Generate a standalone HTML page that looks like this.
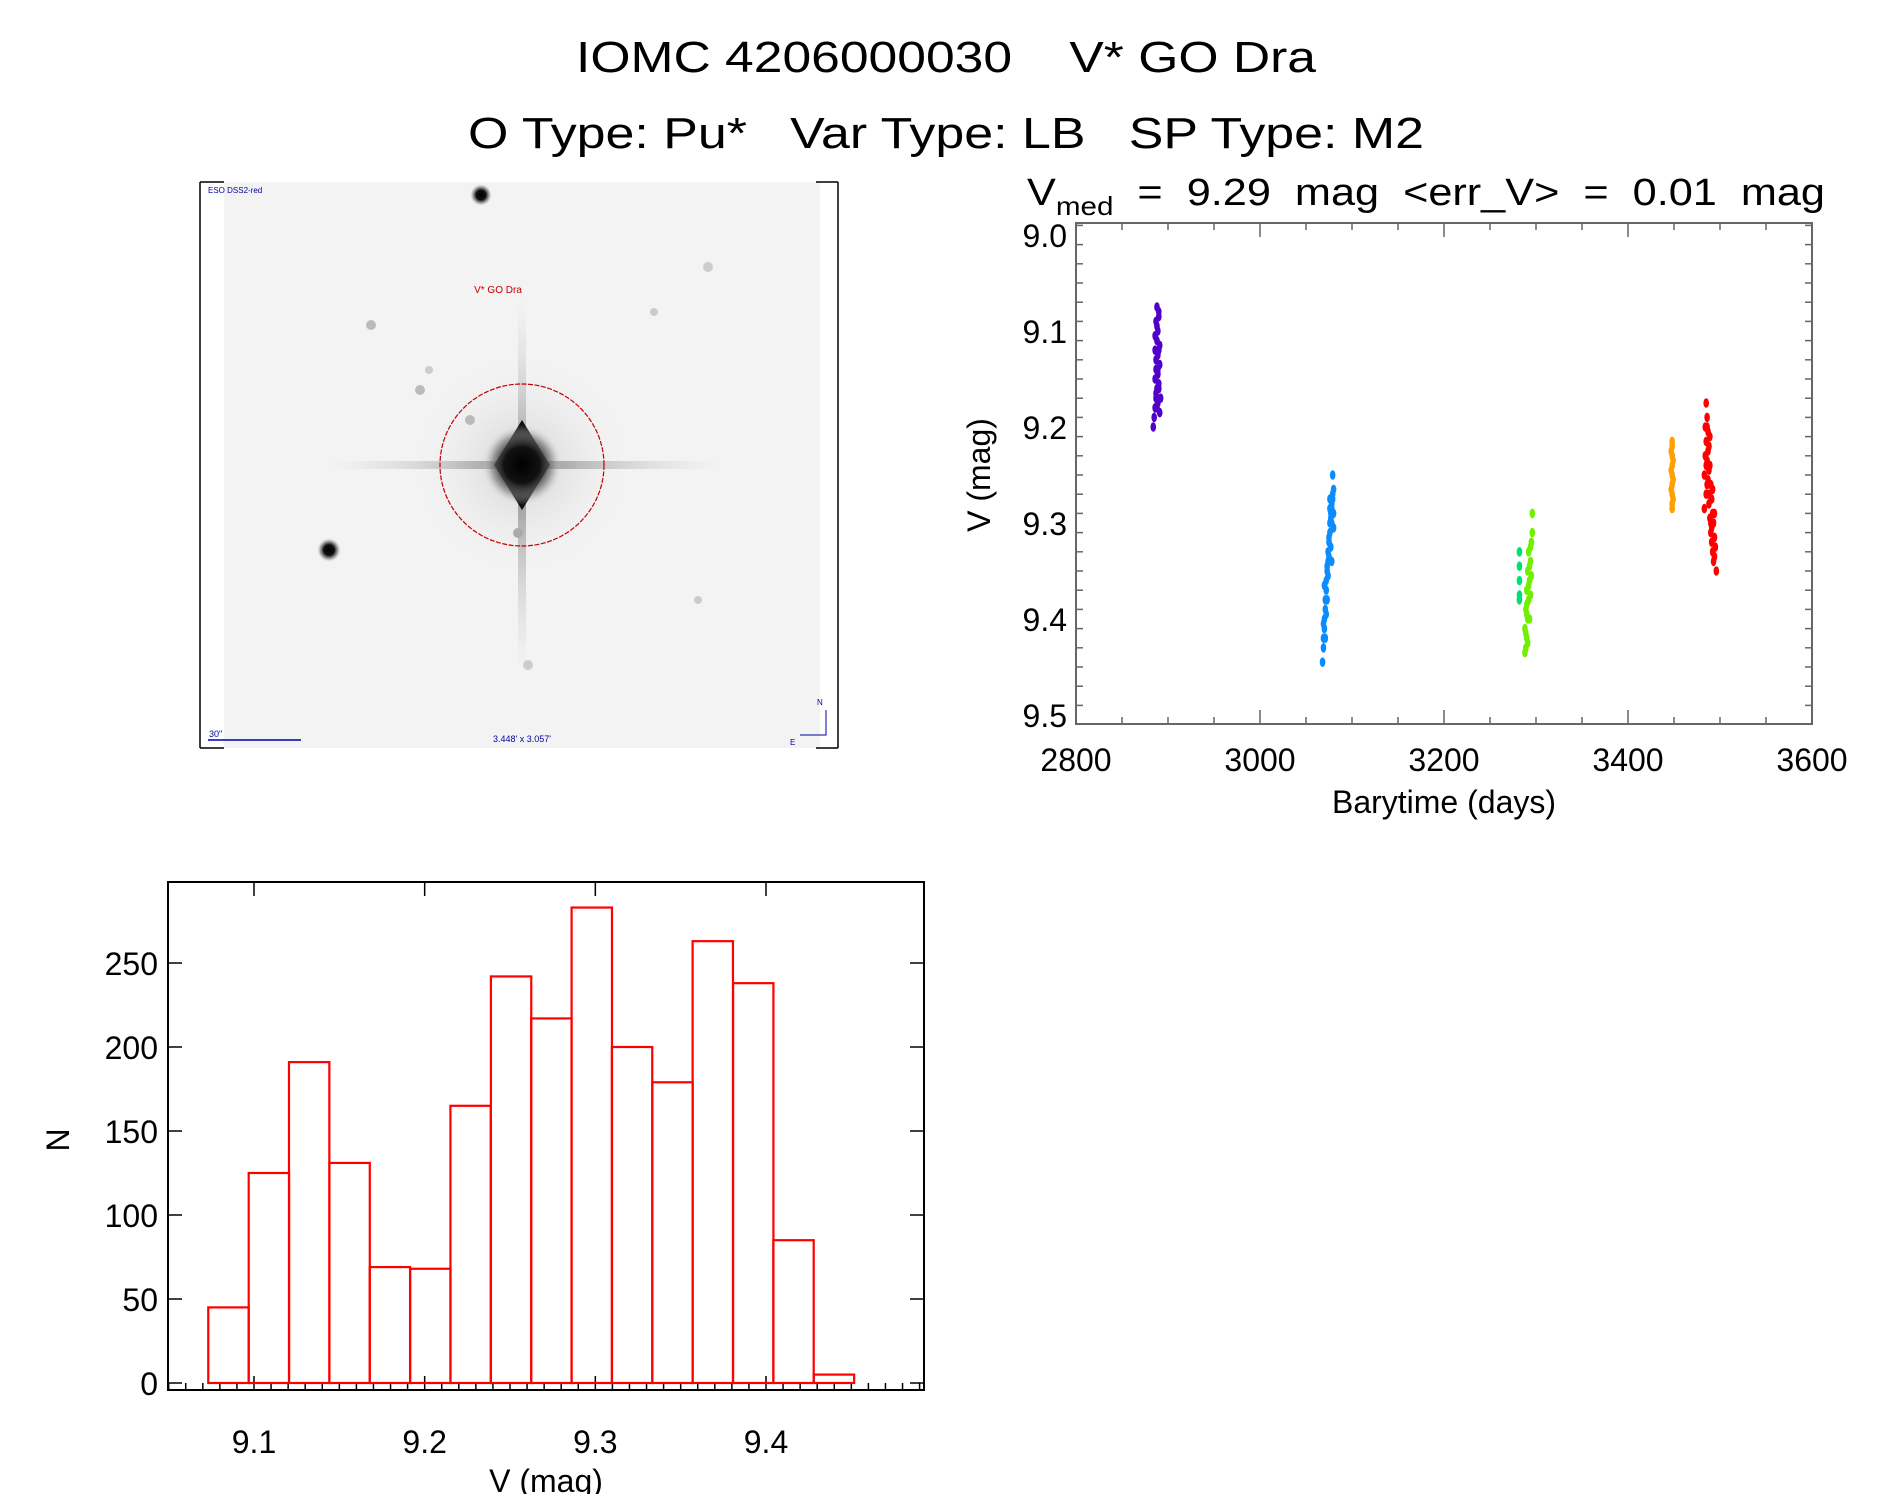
<!DOCTYPE html>
<html><head><meta charset="utf-8"><style>
html,body{margin:0;padding:0;background:#fff}
svg{display:block;font-family:"Liberation Sans",sans-serif}
</style></head><body>
<svg id="root" width="1889" height="1494" viewBox="0 0 1889 1494">
<defs>
<radialGradient id="starg"><stop offset="0" stop-color="#000"/><stop offset="0.45" stop-color="#111"/><stop offset="0.75" stop-color="#777" stop-opacity="0.6"/><stop offset="1" stop-color="#ddd" stop-opacity="0"/></radialGradient>
<radialGradient id="halo"><stop offset="0" stop-color="#bbb" stop-opacity="0.6"/><stop offset="1" stop-color="#eee" stop-opacity="0"/></radialGradient>
<linearGradient id="hsp" x1="0" x2="1"><stop offset="0" stop-color="#aaa" stop-opacity="0"/><stop offset="0.5" stop-color="#444"/><stop offset="1" stop-color="#aaa" stop-opacity="0"/></linearGradient>
<linearGradient id="vsp" x1="0" x2="0" y1="0" y2="1"><stop offset="0" stop-color="#aaa" stop-opacity="0"/><stop offset="0.5" stop-color="#444"/><stop offset="1" stop-color="#aaa" stop-opacity="0"/></linearGradient>
</defs>
<text x="946" y="72" font-size="44" text-anchor="middle" textLength="740" lengthAdjust="spacingAndGlyphs" xml:space="preserve" style="white-space:pre">IOMC 4206000030    V* GO Dra</text>
<text x="946" y="148" font-size="44" text-anchor="middle" textLength="956" lengthAdjust="spacingAndGlyphs" xml:space="preserve" style="white-space:pre">O Type: Pu*   Var Type: LB   SP Type: M2</text>

<g>
<rect x="224" y="182" width="596" height="566" fill="#f3f3f3"/>
<circle cx="522" cy="465" r="110" fill="url(#halo)"/>
<rect x="330" y="461" width="390" height="8" fill="url(#hsp)" opacity="0.5"/>
<rect x="518" y="300" width="8" height="370" fill="url(#vsp)" opacity="0.5"/>
<polygon points="522,420 550,465 522,510 494,465" fill="#111"/>
<circle cx="522" cy="465" r="40" fill="url(#starg)"/>
<circle cx="481" cy="195" r="11" fill="url(#starg)"/>
<circle cx="329" cy="550" r="12" fill="url(#starg)"/>
<circle cx="371" cy="325" r="5" fill="#bbb"/><circle cx="420" cy="390" r="5" fill="#bbb"/><circle cx="429" cy="370" r="4" fill="#ccc"/>
<circle cx="470" cy="420" r="5" fill="#bbb"/><circle cx="518" cy="533" r="5" fill="#aaa"/><circle cx="528" cy="665" r="5" fill="#ccc"/>
<circle cx="708" cy="267" r="5" fill="#ccc"/><circle cx="654" cy="312" r="4" fill="#ccc"/><circle cx="698" cy="600" r="4" fill="#ccc"/>
<text x="208" y="193" font-size="8" fill="#0000a0">ESO DSS2-red</text>
<text x="498" y="293" font-size="10" fill="#c00000" text-anchor="middle">V* GO Dra</text>
<ellipse cx="522" cy="465" rx="82" ry="81" fill="none" stroke="#c00000" stroke-width="1.2" stroke-dasharray="5,1.5"/>
<line x1="208" y1="740" x2="301" y2="740" stroke="#0000a0" stroke-width="1.5"/>
<text x="209" y="737" font-size="9" fill="#0000a0">30"</text>
<text x="522" y="742" font-size="9" fill="#0000a0" text-anchor="middle">3.448' x 3.057'</text>
<path d="M826,710 L826,735 L800,735" fill="none" stroke="#0000a0" stroke-width="1"/>
<text x="817" y="705" font-size="8" fill="#0000a0">N</text><text x="790" y="745" font-size="8" fill="#0000a0">E</text>
<path d="M200,182 V748 M200,182 H224 M200,748 H224 M838,182 V748 M816,182 H838 M816,748 H838" stroke="#000" stroke-width="1.5" fill="none"/>
</g>

<g id="lc"></g>
<g id="hist"></g>
</svg>
<script>
var NS='http://www.w3.org/2000/svg';
function mk(parent,tag,attrs){var e=document.createElementNS(NS,tag);for(var k in attrs)e.setAttribute(k,attrs[k]);parent.appendChild(e);return e;}

// ---- light curve data ----
var lcXTicks=[2800,3000,3200,3400,3600];
var lcYTicks=[9.0,9.1,9.2,9.3,9.4,9.5];
var purpleT=[2884,2885,2886,2887,2888,2886,2889,2887,2890,2888,2889,2887,2890,2888,2891,2892,2890,2891,2889,2886,2888,2890,2887,2889,2891,2888,2886,2890,2889,2887];
var purpleV=[9.20,9.19,9.18,9.17,9.16,9.15,9.14,9.13,9.12,9.11,9.10,9.09,9.08,9.075,9.185,9.17,9.155,9.135,9.125,9.105,9.095,9.085,9.165,9.145,9.115,9.18,9.12,9.16,9.175,9.14];
var blueT=[3068,3069,3069,3070,3070,3071,3071,3072,3072,3073,3073,3074,3074,3075,3075,3076,3076,3077,3077,3078,3078,3079,3079,3080,3079,3077,3080,3078,3072,3070,3074,3076,3080,3071,3073,3075,3078,3069,3076];
var blueV=[9.445,9.43,9.42,9.41,9.40,9.39,9.38,9.37,9.36,9.35,9.345,9.34,9.33,9.32,9.315,9.31,9.30,9.295,9.29,9.285,9.28,9.275,9.27,9.265,9.25,9.325,9.305,9.34,9.395,9.365,9.355,9.285,9.29,9.42,9.38,9.335,9.3,9.405,9.275];
var greenT=[3288,3289,3290,3288,3291,3289,3292,3290,3293,3291,3294,3292,3295,3296,3296,3293,3290,3294,3289,3295,3291,3293,3292,3290,3294];
var greenV=[9.435,9.43,9.42,9.41,9.40,9.39,9.38,9.37,9.36,9.35,9.34,9.33,9.32,9.31,9.29,9.40,9.395,9.375,9.415,9.355,9.425,9.345,9.365,9.385,9.325];
var tealT=[3282,3282,3282,3282,3282];
var tealV=[9.33,9.345,9.36,9.375,9.38];
var orangeT=[3448,3448,3447,3448,3449,3448,3447,3448,3449,3448,3447,3448,3449,3448,3448];
var orangeV=[9.215,9.22,9.225,9.23,9.235,9.24,9.245,9.25,9.255,9.26,9.265,9.27,9.275,9.28,9.285];
var redT=[3485,3486,3484,3487,3485,3488,3484,3486,3489,3483,3487,3490,3485,3491,3488,3492,3483,3489,3493,3490,3494,3491,3495,3492,3494,3496,3488,3486,3492,3490,3493,3487,3489,3485,3491,3494,3488,3486];
var redV=[9.175,9.19,9.20,9.205,9.215,9.22,9.23,9.235,9.24,9.25,9.255,9.26,9.27,9.275,9.28,9.29,9.285,9.295,9.30,9.31,9.315,9.32,9.325,9.33,9.335,9.35,9.245,9.26,9.265,9.30,9.34,9.225,9.21,9.24,9.305,9.29,9.27,9.2];

// ---- histogram data ----
var binStart=[9.0732,9.0969,9.1205,9.1442,9.1678,9.1915,9.2151,9.2388,9.2624,9.2861,9.3097,9.3334,9.3570,9.3807,9.4043,9.4280];
var binWidth=0.02365;
var counts=[45,125,191,131,69,68,165,242,217,283,200,179,263,238,85,5];
var histXTicks=[9.1,9.2,9.3,9.4];
var histYTicks=[0,50,100,150,200,250];

var L={x0:1076,x1:1812,y0:223,y1:724};
function lx(t){return L.x0+(t-2800)/800*(L.x1-L.x0);}
function ly(v){return 235+(v-9.0)/0.5*(715-235);}
var lc=document.getElementById('lc');
var fr=mk(lc,'rect',{x:L.x0,y:L.y0,width:L.x1-L.x0,height:L.y1-L.y0,fill:'none',stroke:'#666','stroke-width':2});


for(var t=2800;t<=3600;t+=50){var maj=(t%200===0);var h=maj?14:7;
 mk(lc,'line',{x1:lx(t),x2:lx(t),y1:L.y1,y2:L.y1-h,stroke:'#666','stroke-width':1.5});
 mk(lc,'line',{x1:lx(t),x2:lx(t),y1:L.y0,y2:L.y0+h,stroke:'#666','stroke-width':1.5});}
for(var i=0;i<=26;i++){var v=8.99+i*0.02; var mj=Math.abs(Math.round(v*10)-v*10)<0.001;var hh=mj?14:7;
 var yy=ly(v); if(yy<L.y0||yy>L.y1)continue;
 mk(lc,'line',{x1:L.x0,x2:L.x0+hh,y1:yy,y2:yy,stroke:'#666','stroke-width':1.5});
 mk(lc,'line',{x1:L.x1,x2:L.x1-hh,y1:yy,y2:yy,stroke:'#666','stroke-width':1.5});}
lcXTicks.forEach(function(t){var e=mk(lc,'text',{x:lx(t),y:771,'font-size':32,'text-anchor':'middle'});e.textContent=t;
 
 });
lcYTicks.forEach(function(v){var e=mk(lc,'text',{x:1067,y:ly(v)+12,'font-size':32,'text-anchor':'end'});e.textContent=v.toFixed(1);
 
 });
var xt=mk(lc,'text',{x:1444,y:813,'font-size':32,'text-anchor':'middle'});xt.textContent='Barytime (days)';


var yt=mk(lc,'text',{x:0,y:0,'font-size':32,'text-anchor':'middle',transform:'translate(990,475) rotate(-90)'});yt.textContent='V (mag)';


var tt=mk(lc,'text',{x:1027,y:205,'font-size':38,textLength:798,lengthAdjust:'spacingAndGlyphs'});


var s1=mk(tt,'tspan',{});s1.textContent='V';
var s2=mk(tt,'tspan',{'font-size':26,dy:10});s2.textContent='med';
var s3=mk(tt,'tspan',{dy:-10});s3.textContent='  =  9.29  mag  <err_V>  =  0.01  mag';
tt.setAttribute('xml:space','preserve');tt.style.whiteSpace='pre';
function series(T,V,col,name){var g=mk(lc,'g',{});
 
 
 for(var i=0;i<T.length;i++){mk(g,'ellipse',{cx:lx(T[i]),cy:ly(V[i]),rx:2.8,ry:4.8,fill:col});}}
series(purpleT,purpleV,'#5000c8','series-purple');
series(blueT,blueV,'#0a8cff','series-blue');
series(tealT,tealV,'#00e070','series-teal');
series(greenT,greenV,'#70f000','series-green');
series(orangeT,orangeV,'#ffa000','series-orange');
series(redT,redV,'#ff0000','series-red');

var H={x0:168,x1:924,y0:882,y1:1390};
function hx(v){return 254+(v-9.1)/0.3*(766-254);}
function hy(n){return 1383-n/250*(1383-963);}
var hg=document.getElementById('hist');
var hf=mk(hg,'rect',{x:H.x0,y:H.y0,width:H.x1-H.x0,height:H.y1-H.y0,fill:'none',stroke:'#000','stroke-width':2});


for(var k=0;k<=45;k++){var v2=9.05+k*0.01;var x=hx(v2);if(x<H.x0-1||x>H.x1+1)continue;
 var mj2=Math.abs(Math.round(v2*10)-v2*10)<0.001;
 mk(hg,'line',{x1:x,x2:x,y1:H.y1,y2:H.y1-(mj2?14:7),stroke:'#000','stroke-width':1.5});
 if(mj2)mk(hg,'line',{x1:x,x2:x,y1:H.y0,y2:H.y0+14,stroke:'#000','stroke-width':1.5});}
histYTicks.forEach(function(n){var y=hy(n);
 mk(hg,'line',{x1:H.x0,x2:H.x0+14,y1:y,y2:y,stroke:'#000','stroke-width':1.5});
 mk(hg,'line',{x1:H.x1,x2:H.x1-14,y1:y,y2:y,stroke:'#000','stroke-width':1.5});
 var e=mk(hg,'text',{x:158,y:y+12,'font-size':32,'text-anchor':'end'});e.textContent=n;
 
 });
histXTicks.forEach(function(v){var e=mk(hg,'text',{x:hx(v),y:1453,'font-size':32,'text-anchor':'middle'});e.textContent=v.toFixed(1);
 
 });
var hxt=mk(hg,'text',{x:546,y:1492,'font-size':32,'text-anchor':'middle'});hxt.textContent='V (mag)';


var hyt=mk(hg,'text',{x:0,y:0,'font-size':32,'text-anchor':'middle',transform:'translate(69,1140) rotate(-90)'});hyt.textContent='N';


for(var b=0;b<counts.length;b++){
 var r=mk(hg,'rect',{x:hx(binStart[b]),y:hy(counts[b]),width:hx(binStart[b]+binWidth)-hx(binStart[b]),height:hy(0)-hy(counts[b]),fill:'none',stroke:'#ff0000','stroke-width':2.2});
 
 }
</script>
</body></html>
